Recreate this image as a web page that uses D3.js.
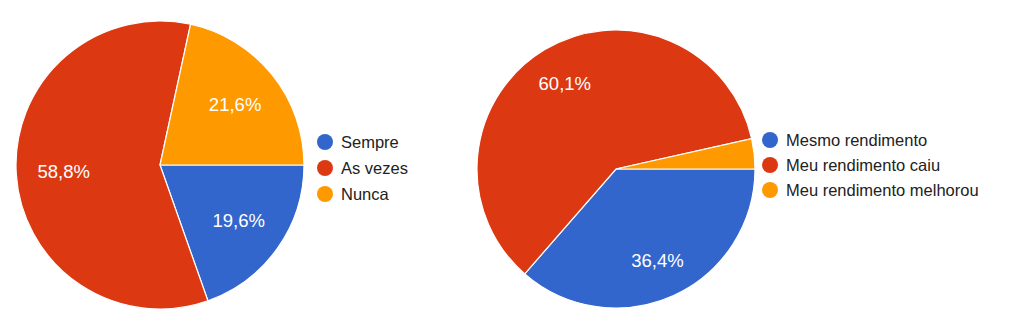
<!DOCTYPE html>
<html>
<head>
<meta charset="utf-8">
<script src="https://cdn.jsdelivr.net/npm/d3@7"></script>
<style>
  body { margin: 0; background: #fff; }
  svg { display: block; font-family: Arial, "Liberation Sans", sans-serif; }
</style>
</head>
<body>
<div id="chart"></div>
<script>
const width = 1025, height = 326;

// left chart
const leftCategories = ['Sempre', 'As vezes', 'Nunca'];
const leftValues = [19.6, 58.8, 21.6];

// right chart
const rightCategories = ['Mesmo rendimento', 'Meu rendimento caiu', 'Meu rendimento melhorou'];
const rightValues = [36.4, 60.1, 3.5];

const colors = ['#3366cc', '#dc3912', '#ff9900'];

const svg = d3.select('#chart').append('svg')
  .attr('width', width)
  .attr('height', height)
  .attr('viewBox', `0 0 ${width} ${height}`);

function pieChart(cfg) {
  const g = svg.append('g')
    .attr('transform', `translate(${cfg.cx},${cfg.cy})`);

  const color = d3.scaleOrdinal().domain(cfg.categories).range(colors);

  const data = cfg.categories.map((c, i) => ({label: c, value: cfg.values[i]}));

  // google-style: first slice starts at 3 o'clock, clockwise
  const pie = d3.pie()
    .sort(null)
    .value(d => d.value)
    .startAngle(Math.PI / 2)
    .endAngle(Math.PI / 2 + 2 * Math.PI);

  const arc = d3.arc().innerRadius(0).outerRadius(cfg.r);
  const labelArc = d3.arc().innerRadius(cfg.r * cfg.labelPos).outerRadius(cfg.r * cfg.labelPos);

  const arcs = pie(data);

  g.selectAll('.slice')
    .data(arcs)
    .enter().append('path')
    .attr('class', 'slice')
    .attr('d', arc)
    .attr('fill', d => color(d.data.label))
    .attr('stroke', '#fff')
    .attr('stroke-width', 1.2);

  g.selectAll('.slice-label')
    .data(arcs.filter(d => d.data.value > 5))
    .enter().append('text')
    .attr('class', 'slice-label')
    .attr('transform', d => `translate(${labelArc.centroid(d)})`)
    .attr('text-anchor', 'middle')
    .attr('dy', '0.36em')
    .attr('fill', '#fff')
    .style('font-size', '18.5px')
    .text(d => d3.format('.1f')(d.data.value).replace('.', ',') + '%');

  //
  // Legend
  //
  const legend = svg.append('g')
    .attr('transform', `translate(${cfg.legendX},${cfg.legendY})`);

  const item = legend.selectAll('.legend-item')
    .data(cfg.categories)
    .enter().append('g')
    .attr('class', 'legend-item')
    .attr('transform', (d, i) => `translate(0,${i * cfg.legendStep})`);

  item.append('circle')
    .attr('r', 8)
    .attr('fill', d => color(d));

  item.append('text')
    .attr('x', 16)
    .attr('dy', '0.35em')
    .attr('fill', '#222')
    .style('font-size', '16.5px')
    .text(d => d);
}

pieChart({
  categories: leftCategories, values: leftValues,
  cx: 160, cy: 165, r: 144, labelPos: 0.67,
  legendX: 325, legendY: 142, legendStep: 26
});

pieChart({
  categories: rightCategories, values: rightValues,
  cx: 616, cy: 169, r: 139, labelPos: 0.72,
  legendX: 770, legendY: 140, legendStep: 25
});
</script>
</body>
</html>
